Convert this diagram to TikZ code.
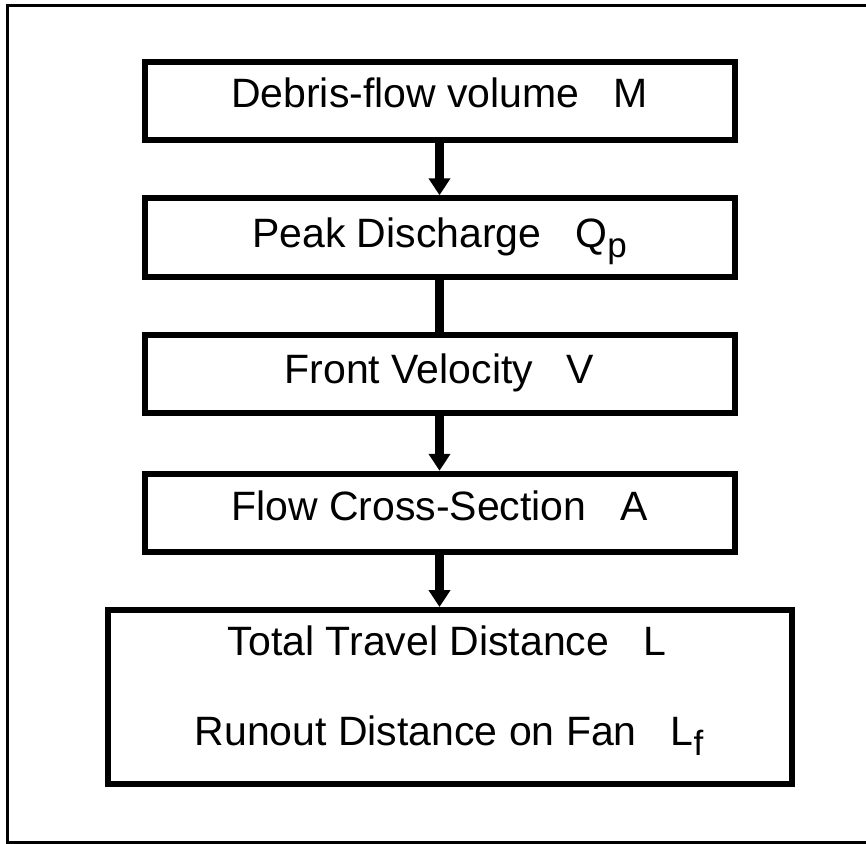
\documentclass[tikz,border=0pt]{standalone}
\usepackage{fontspec}
\setmainfont{Liberation Sans}
\usetikzlibrary{arrows.meta,calc}

% variable name followed by a lowered subscript
\newcommand{\varsub}[2]{#1\raisebox{-10pt}{\fontsize{35}{35}\selectfont #2}}

\begin{document}
\begin{tikzpicture}[x=1pt,y=-1pt,
    stepbox/.style={draw,line width=6pt,inner sep=0pt,minimum width=590pt,minimum height=78.5pt},
    txt/.style={anchor=base,inner sep=0pt,font=\fontsize{41}{48}\selectfont},
    flow/.style={line width=9pt,-{Triangle[width=21pt,length=17pt]}},
    link/.style={line width=9pt}]
  \useasboundingbox (0,0) rectangle (866,843);
  % outer frame
  \draw[line width=3pt] (7.5,5.5) rectangle (880,842.5);

  % boxes
  \node[stepbox] (b1) at (439.5,100.75) {};
  \node[stepbox] (b2) at (439.5,237.5) {};
  \node[stepbox] (b3) at (439.5,374) {};
  \node[stepbox] (b4) at (439.5,513) {};
  \node[stepbox,minimum width=683.5pt,minimum height=173.5pt] (b5) at (449.75,696.75) {};

  % texts
  \node[txt] (t1) at (439.5,107) {Debris-flow volume\hspace{34pt}M};
  \node[txt] (t2) at (439.5,247) {Peak Discharge\hspace{34pt}\varsub{Q}{p}};
  \node[txt] (t3) at (439.5,383) {Front Velocity\hspace{34pt}V};
  \node[txt] (t4) at (439.5,520) {Flow Cross-Section\hspace{34pt}A};
  \node[txt] (t5) at (447,655) {Total Travel Distance\hspace{34pt}L};
  \node[txt] (t6) at (449,745) {Runout Distance on Fan\hspace{34pt}\varsub{L}{f}};

  % connectors
  \draw[flow] (b1.south) -- (b2.north);
  \draw[link] (b2.south) -- (b3.north);
  \draw[flow] (b3.south) -- (b4.north);
  \draw[flow] (b4.south) -- (b5.north -| b4.south);
\end{tikzpicture}
\end{document}
